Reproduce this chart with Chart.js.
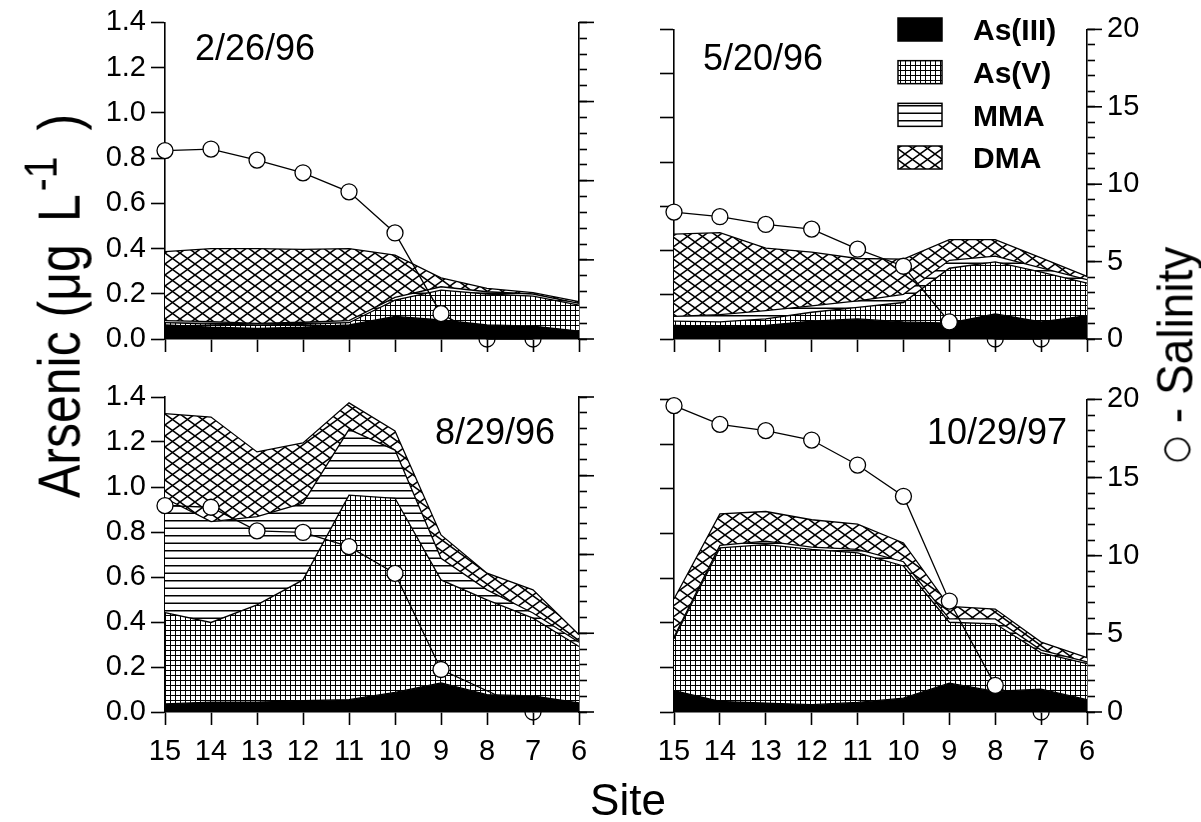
<!DOCTYPE html>
<html><head><meta charset="utf-8">
<script src="https://cdn.jsdelivr.net/npm/chart.js@4.4.0/dist/chart.umd.min.js"></script>
<style>
html,body{margin:0;padding:0;background:#fff;}
body{width:1201px;height:822px;position:relative;overflow:hidden;font-family:'Liberation Sans',Arial,sans-serif;}
canvas{position:absolute;}
.lbl{position:absolute;line-height:1;white-space:nowrap;color:#000;}
</style></head><body>
<canvas id="c0" width="530" height="380" style="left:90px;top:0px"></canvas>
<canvas id="c1" width="581" height="380" style="left:620px;top:0px"></canvas>
<canvas id="c2" width="530" height="410" style="left:90px;top:370px"></canvas>
<canvas id="c3" width="581" height="410" style="left:620px;top:370px"></canvas>

<div class="lbl" style="left:195px;top:29.5px;font-size:36px">2/26/96</div>
<div class="lbl" style="left:703px;top:39.5px;font-size:36px">5/20/96</div>
<div class="lbl" style="left:435px;top:413.5px;font-size:36px">8/29/96</div>
<div class="lbl" style="left:927px;top:413.5px;font-size:36px">10/29/97</div>

<div class="lbl" style="left:59px;top:306px;font-size:50px;transform:translate(-50%,-50%) rotate(-90deg) scaleY(1.2);">Arsenic (μg<span style="margin-left:22px">L</span><span style="position:relative;top:-0.5em;font-size:0.78em;margin-left:3px">-1</span><span style="margin-left:26px">)</span></div>
<div class="lbl" style="left:1174.5px;top:355px;font-size:46px;transform:translate(-50%,-50%) rotate(-90deg) scaleY(1.1);"><span style="font-family:'DejaVu Sans';font-size:0.68em;position:relative;top:-6px">○</span> - Salinity</div>
<div class="lbl" style="left:528px;width:200px;text-align:center;top:778px;font-size:44px">Site</div>

<script>
// ---------- data ----------
const sites = ['15','14','13','12','11','10','9','8','7','6'];
const seriesNames = ['As(III)','As(V)','MMA','DMA'];
const rightTicks = [0,5,10,15,20];

// 2/26/96
const as3_0226 = [0.062,0.052,0.047,0.052,0.062,0.100,0.084,0.062,0.057,0.035];
const as5_0226 = [0.010,0.014,0.015,0.013,0.010,0.072,0.132,0.137,0.133,0.115];
const mma_0226 = [0.009,0.011,0.007,0.009,0.009,0.012,0.015,0.010,0.009,0.008];
const dma_0226 = [0.305,0.323,0.331,0.322,0.319,0.187,0.039,0.015,0.006,0.007];
const sal_0226 = [11.9,12.0,11.3,10.5,9.3,6.7,1.6,0,0,null];

// 5/20/96
const as3_0520 = [0.062,0.057,0.062,0.081,0.091,0.077,0.072,0.113,0.077,0.106];
const as5_0520 = [0.019,0.020,0.029,0.040,0.052,0.088,0.248,0.236,0.225,0.147];
const mma_0520 = [0.021,0.033,0.037,0.029,0.029,0.037,0.036,0.026,0.020,0.015];
const dma_0520 = [0.372,0.371,0.283,0.243,0.192,0.159,0.093,0.074,0.045,0.015];
const sal_0520 = [8.2,7.9,7.4,7.1,5.8,4.7,1.1,0,0,null];

// 8/29/96
const as3_0829 = [0.036,0.044,0.044,0.050,0.055,0.087,0.129,0.077,0.072,0.040];
const as5_0829 = [0.406,0.354,0.432,0.537,0.909,0.863,0.458,0.421,0.345,0.251];
const mma_0829 = [0.508,0.448,0.392,0.341,0.292,0.214,0.096,0.045,0.023,0.019];
const dma_0829 = [0.376,0.465,0.288,0.268,0.118,0.085,0.104,0.074,0.103,0.033];
const sal_0829 = [13.1,13.0,11.5,11.4,10.5,8.8,2.7,null,0,null];

// 10/29/97
const as3_1029 = [0.096,0.047,0.040,0.033,0.043,0.062,0.129,0.092,0.102,0.055];
const as5_1029 = [0.232,0.688,0.710,0.695,0.670,0.592,0.273,0.303,0.163,0.162];
const mma_1029 = [0.008,0.011,0.015,0.010,0.015,0.019,0.015,0.022,0.012,0.008];
const dma_1029 = [0.170,0.141,0.133,0.123,0.113,0.084,0.056,0.044,0.036,0.019];
const sal_1029 = [19.6,18.4,18.0,17.4,15.8,13.8,7.1,1.7,0,null];

// ---------- styles ----------
const FONT = "'Liberation Sans', Arial, sans-serif";
const LW = 1.6;

function tile(w,h,draw){
  const c=document.createElement('canvas'); c.width=w; c.height=h;
  const g=c.getContext('2d'); g.fillStyle='#fff'; g.fillRect(0,0,w,h); draw(g);
  return g.createPattern(c,'repeat');
}
const patGrid = tile(5,5,g=>{g.fillStyle='#000';g.fillRect(0,0,5,1);g.fillRect(0,0,1,5);});
const patH = tile(4,15,g=>{g.fillStyle='#000';g.fillRect(0,0,4,1.5);g.fillRect(0,7.5,4,1.5);});
const patX = tile(15,11,g=>{g.strokeStyle='#000';g.lineWidth=1.5;g.beginPath();g.moveTo(-15,-11);g.lineTo(30,22);g.moveTo(-15,22);g.lineTo(30,-11);g.stroke();});
const fills = ['#000', patGrid, patH, patX];

// major ticks on the salinity axis (minor ones come from the scale's own ticks)
const salTickPlugin = {
  id:'salTicks',
  afterDraw(chart){
    const s = chart.scales.y2, ctx = chart.ctx;
    ctx.save(); ctx.strokeStyle='#000'; ctx.lineWidth=LW;
    rightTicks.forEach(v=>{
      const y = s.getPixelForValue(v);
      ctx.beginPath(); ctx.moveTo(s.left, y); ctx.lineTo(s.left+15, y); ctx.stroke();
    });
    ctx.restore();
  }
};

// legend drawn inside the top-right panel
const legendPlugin = {
  id:'patLegend',
  afterDraw(chart, args, opts){
    if(!opts.show) return;
    const ctx = chart.ctx;
    ctx.save();
    seriesNames.forEach((name,i)=>{
      const y = opts.top + i*opts.step;
      ctx.fillStyle = fills[i];
      ctx.fillRect(opts.boxX, y, opts.boxW, opts.boxH);
      ctx.strokeStyle='#000'; ctx.lineWidth=1.5;
      ctx.strokeRect(opts.boxX, y, opts.boxW, opts.boxH);
      ctx.fillStyle='#000';
      ctx.font = 'bold 30px ' + FONT;
      ctx.textBaseline='alphabetic';
      ctx.fillText(name, opts.textX, y + opts.boxH/2 + 10.7);
    });
    ctx.restore();
  }
};

function makeChart(id, d, cfg){
  const axisFont = {family:FONT, size:29};
  const ds = [
    {label:'Salinity', data:d.sal, yAxisID:'y2', borderColor:'#000', borderWidth:1.3,
     pointRadius:8, pointHoverRadius:8, pointBorderColor:'#000', pointBorderWidth:1.3,
     pointBackgroundColor: c => (c.raw===0 ? 'rgba(0,0,0,0)' : '#fff'),
     fill:false, spanGaps:true, clip:false, tension:0}
  ];
  [d.as3,d.as5,d.mma,d.dma].forEach((arr,i)=>{
    ds.push({label:seriesNames[i], data:arr, yAxisID:'y', backgroundColor:fills[i],
      borderColor:'#000', borderWidth:1.3, pointRadius:0, tension:0,
      fill: i===0 ? 'origin' : '-1'});
  });
  return new Chart(document.getElementById(id), {
    type:'line',
    data:{labels:sites, datasets:ds},
    options:{
      responsive:false, animation:false, events:[],
      layout:{padding:{top:cfg.padTop,left:0,right:0,bottom:0}},
      plugins:{legend:{display:false}, tooltip:{enabled:false},
        patLegend:{show:!!cfg.legend, boxX:278, boxW:44, boxH:23, top:18, step:42.67, textX:353}},
      scales:{
        x:{type:'category', offset:false,
          grid:{display:true, drawOnChartArea:false, drawTicks:true, tickLength:13, tickWidth:LW, tickColor:'#000'},
          border:{display:true, color:'#000', width:LW},
          ticks:{display:cfg.xLabels, color:'#000', font:axisFont, padding:10, maxRotation:0, minRotation:0, autoSkip:false},
          afterFit:s=>{s.height=cfg.xH;}},
        y:{type:'linear', position:'left', stacked:true, min:0, max:1.4,
          grid:{display:true, drawOnChartArea:false, drawTicks:true, tickLength:14, tickWidth:LW, tickColor:'#000'},
          border:{display:true, color:'#000', width:LW},
          ticks:{display:cfg.yLabels, stepSize:0.2, color:'#000', font:axisFont, padding:5,
            callback:v=>Number(v).toFixed(1)},
          afterFit:s=>{s.width=cfg.yW;}},
        y2:{type:'linear', position:'right', stacked:false, min:0, max:20,
          grid:{display:true, drawOnChartArea:false, drawTicks:true, tickLength:8, tickWidth:LW, tickColor:'#000'},
          border:{display:true, color:'#000', width:LW},
          ticks:{display:cfg.y2Labels, stepSize:1, autoSkip:false, color:'#000', font:axisFont, padding:12,
            callback:v=> (rightTicks.includes(v) ? String(v) : '')},
          afterFit:s=>{s.width=cfg.y2W;}}
      }
    },
    plugins:[salTickPlugin, legendPlugin]
  });
}

makeChart('c0', {as3:as3_0226,as5:as5_0226,mma:mma_0226,dma:dma_0226,sal:sal_0226},
  {padTop:22, xH:41, yW:75, y2W:41, xLabels:false, yLabels:true, y2Labels:false});
makeChart('c1', {as3:as3_0520,as5:as5_0520,mma:mma_0520,dma:dma_0520,sal:sal_0520},
  {padTop:22, xH:41, yW:54, y2W:114, xLabels:false, yLabels:false, y2Labels:true, legend:true});
makeChart('c2', {as3:as3_0829,as5:as5_0829,mma:mma_0829,dma:dma_0829,sal:sal_0829},
  {padTop:27, xH:68, yW:75, y2W:41, xLabels:true, yLabels:true, y2Labels:false});
makeChart('c3', {as3:as3_1029,as5:as5_1029,mma:mma_1029,dma:dma_1029,sal:sal_1029},
  {padTop:27, xH:68, yW:54, y2W:114, xLabels:true, yLabels:false, y2Labels:true});
</script>
</body></html>
